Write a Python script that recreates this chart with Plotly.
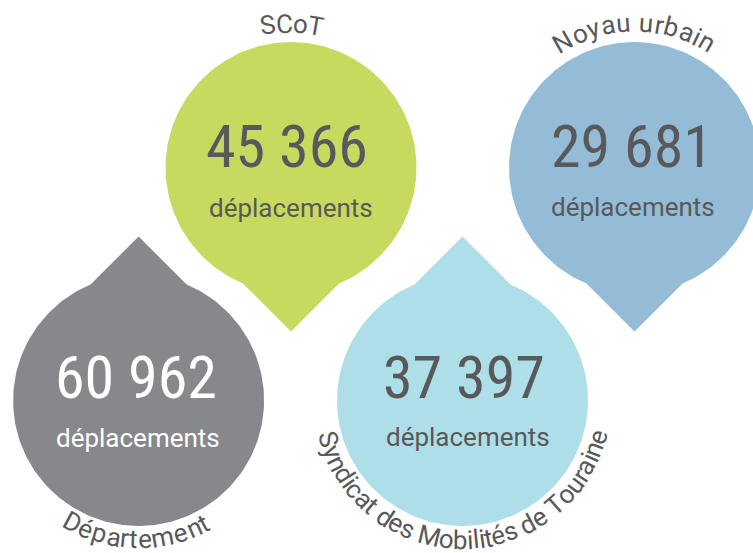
import numpy as np
import plotly.graph_objects as go

# ---------------- data ----------------
labels = ["SCoT", "Noyau urbain", "Département", "Syndicat des Mobilités de Touraine"]
values = [45366, 29681, 60962, 37397]
unit_label = "déplacements"

# ---------------- layout / style (pixel coordinates, y downwards) ----------------
W, H = 753, 553
drop_centers = [(291, 167.5), (634.5, 167.5), (138.6, 400.5), (462.5, 400.5)]
drop_tip_dir = [1, 1, -1, -1]          # +1 tip points down, -1 tip points up
drop_colors = ["#C8D960", "#95BCD7", "#87888C", "#AEDEE7"]
text_colors = ["#58595B", "#58595B", "#FFFFFF", "#58595B"]
number_pos = [(287, 146.4), (631.5, 146.7), (135.5, 377.9), (463.8, 377.0)]
unit_pos = [(290.8, 208.3), (633.4, 206.6), (138.3, 437.5), (467.8, 437.1)]
# curved label arcs: radius, angle of first char centre, angle of last char centre (deg, screen coords)
label_arcs = [(144, -99.4, -80.0), (145, -119.8, -59.8), (138.5, 118.5, 61.9), (139.5, 164.0, 15.0)]
label_on_top = [True, True, False, False]
R_CIRCLE, TIP_DIST = 125.5, 164.0
LABEL_COLOR = "#58595B"
NUM_FONT = dict(family="Roboto Condensed, Roboto, sans-serif", size=60)
UNIT_FONT = dict(family="Roboto, sans-serif", size=26)
LABEL_FONT = dict(family="Roboto, sans-serif", size=26, color=LABEL_COLOR)

ROBOTO_W = {' ': 0.248, 'a': 0.544, 'b': 0.561, 'c': 0.523, 'd': 0.564, 'e': 0.530, 'é': 0.530,
            'i': 0.243, 'l': 0.243, 'm': 0.876, 'n': 0.552, 'o': 0.570, 'p': 0.561, 'r': 0.338,
            's': 0.516, 't': 0.327, 'u': 0.551, 'y': 0.474, 'D': 0.655, 'S': 0.593, 'C': 0.652,
            'T': 0.611, 'N': 0.713, 'M': 0.873}


def char_centres(text):
    w = np.array([ROBOTO_W.get(c, 0.5) for c in text])
    return np.cumsum(w) - w / 2, w


fig = go.Figure()

# ---------------- drops ----------------
t = (TIP_DIST - np.sqrt(2 * R_CIRCLE ** 2 - TIP_DIST ** 2)) / 2
shoulder = np.degrees(np.arctan2(TIP_DIST - t, t))
for (cx, cy), d, col in zip(drop_centers, drop_tip_dir, drop_colors):
    if d > 0:
        ang = np.radians(np.linspace(180 - shoulder, 360 + shoulder, 240))
    else:
        ang = np.radians(np.linspace(-shoulder, 180 + shoulder, 240))
    xs = list(cx + R_CIRCLE * np.cos(ang)) + [cx]
    ys = list(cy + R_CIRCLE * np.sin(ang)) + [cy + d * TIP_DIST]
    fig.add_trace(go.Scatter(x=xs, y=ys, mode="lines", fill="toself", fillcolor=col,
                             line=dict(width=0, color=col), hoverinfo="skip", showlegend=False))

annotations = []

# ---------------- numbers + unit ----------------
for v, (nx, ny), (ux, uy), tc in zip(values, number_pos, unit_pos, text_colors):
    s = f"{v:,}".replace(",", " ")
    annotations.append(dict(x=nx, y=ny, text=s, showarrow=False, xanchor="center", yanchor="middle",
                            font=dict(NUM_FONT, color=tc)))
    annotations.append(dict(x=ux, y=uy, text=unit_label, showarrow=False, xanchor="center",
                            yanchor="middle", font=dict(UNIT_FONT, color=tc)))

# ---------------- curved labels ----------------
for lab, (cx, cy), (R, a0, a1), top in zip(labels, drop_centers, label_arcs, label_on_top):
    cen, w = char_centres(lab)
    frac = (cen - cen[0]) / (cen[-1] - cen[0])
    for c, f in zip(lab, frac):
        if c == " ":
            continue
        phi = a0 + (a1 - a0) * f
        pr = np.radians(phi)
        rot = phi + 90 if top else phi - 90
        annotations.append(dict(x=cx + R * np.cos(pr), y=cy + R * np.sin(pr), text=c, showarrow=False,
                                xanchor="center", yanchor="middle", textangle=rot, font=LABEL_FONT))

fig.update_layout(width=W, height=H, margin=dict(l=0, r=0, t=0, b=0),
                  paper_bgcolor="white", plot_bgcolor="white",
                  xaxis=dict(range=[0, W], visible=False, fixedrange=True),
                  yaxis=dict(range=[H, 0], visible=False, fixedrange=True),
                  annotations=annotations, showlegend=False)
fig.write_html("out.html", config={"displayModeBar": False},
               post_script="document.body.style.margin='0';document.body.style.overflow='hidden';")
